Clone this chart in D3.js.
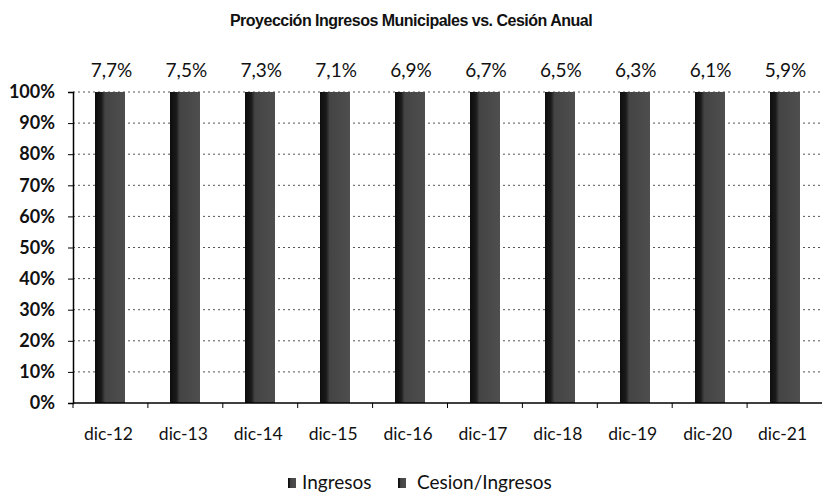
<!DOCTYPE html>
<html>
<head>
<meta charset="utf-8">
<script src="https://cdn.jsdelivr.net/npm/d3@7"></script>
<style>
  body { margin: 0; background: #fff; }
  svg { display: block; }
</style>
</head>
<body>
<div id="chart"></div>
<script>
// chart data
const categories = ["dic-12", "dic-13", "dic-14", "dic-15", "dic-16", "dic-17", "dic-18", "dic-19", "dic-20", "dic-21"];
const cesion = [7.7, 7.5, 7.3, 7.1, 6.9, 6.7, 6.5, 6.3, 6.1, 5.9];
const ingresos = [92.3, 92.5, 92.7, 92.9, 93.1, 93.3, 93.5, 93.7, 93.9, 94.1];
const seriesNames = ["Ingresos", "Cesion/Ingresos"];
const yTicks = [0, 10, 20, 30, 40, 50, 60, 70, 80, 90, 100];

const W = 822, H = 496;
const margin = { left: 73, right: 0, top: 92, bottom: 93 };
const font = "Lato, 'Open Sans', sans-serif";

const svg = d3.select("#chart").append("svg")
    .attr("width", W)
    .attr("height", H);

// gradient to mimic the dark scanned bars
const defs = svg.append("defs");
const grad = defs.append("linearGradient").attr("id", "barGrad");
grad.append("stop").attr("offset", "0%").attr("stop-color", "#0d0d0d");
grad.append("stop").attr("offset", "20%").attr("stop-color", "#1a1a1a");
grad.append("stop").attr("offset", "32%").attr("stop-color", "#444");
grad.append("stop").attr("offset", "100%").attr("stop-color", "#4e4e4e");

const x = d3.scaleBand()
    .domain(categories)
    .range([margin.left, W - margin.right])
    .paddingInner(0.6)
    .paddingOuter(0.3);

const y = d3.scaleLinear()
    .domain([0, 100])
    .range([H - margin.bottom, margin.top]);

// title
svg.append("text")
    .attr("x", 411)
    .attr("y", 26)
    .attr("text-anchor", "middle")
    .style("font-family", "'Liberation Sans', Arial, sans-serif")
    .style("font-size", "16px")
    .style("font-weight", "bold")
    .style("letter-spacing", "-0.5px")
    .attr("fill", "#111")
    .text("Proyección Ingresos Municipales vs. Cesión Anual");

// gridlines
svg.append("g")
    .selectAll("line")
    .data(yTicks.filter(d => d > 0))
    .join("line")
    .attr("x1", margin.left)
    .attr("x2", W - 2)
    .attr("y1", d => y(d))
    .attr("y2", d => y(d))
    .attr("stroke", "#555")
    .attr("stroke-width", 1)
    .attr("stroke-dasharray", "2,3");

// stacked bars
const rows = categories.map((c, i) => ({ cat: c, Ingresos: ingresos[i], "Cesion/Ingresos": cesion[i] }));
const stacked = d3.stack().keys(seriesNames)(rows);

svg.append("g")
    .attr("shape-rendering", "crispEdges")
    .selectAll("g")
    .data(stacked)
    .join("g")
    .selectAll("rect")
    .data(d => d)
    .join("rect")
    .attr("x", d => x(d.data.cat))
    .attr("width", x.bandwidth())
    .attr("y", d => y(d[1]))
    .attr("height", d => y(d[0]) - y(d[1]))
    .attr("fill", "url(#barGrad)");

// data labels above bars
svg.append("g")
    .selectAll("text")
    .data(categories)
    .join("text")
    .attr("x", d => x(d) + x.bandwidth() / 2 + 1)
    .attr("y", 77)
    .attr("text-anchor", "middle")
    .style("font-family", font)
    .style("font-size", "19px")
    .attr("fill", "#111")
    .text((d, i) => cesion[i].toFixed(1).replace(".", ",") + "%");

// y axis
const yAxis = d3.axisLeft(y)
    .tickValues(yTicks)
    .tickSize(5)
    .tickFormat(d => d + "%");
const gy = svg.append("g")
    .attr("transform", `translate(${margin.left},0)`)
    .call(yAxis);
gy.select(".domain").attr("stroke", "#000").attr("stroke-width", 1.5);
gy.selectAll(".tick line").attr("stroke", "#000");
gy.selectAll(".tick text")
    .attr("x", -18)
    .style("font-family", font)
    .style("font-size", "18px")
    .style("font-weight", "bold")
    .attr("fill", "#111");

// x axis
const gx = svg.append("g")
    .attr("transform", `translate(0,${y(0)})`);
gx.append("line")
    .attr("x1", margin.left)
    .attr("x2", W)
    .attr("stroke", "#000")
    .attr("stroke-width", 1.5);
const gap = (x.step() - x.bandwidth()) / 2;
gx.selectAll("line.tk")
    .data(categories)
    .join("line")
    .attr("class", "tk")
    .attr("x1", d => x(d) - gap)
    .attr("x2", d => x(d) - gap)
    .attr("y1", 0)
    .attr("y2", 5)
    .attr("stroke", "#000");
gx.selectAll("text")
    .data(categories)
    .join("text")
    .attr("x", d => x(d) + x.bandwidth() / 2 - 2)
    .attr("y", 440 - y(0))
    .attr("text-anchor", "middle")
    .style("font-family", font)
    .style("font-size", "17.5px")
    .attr("fill", "#111")
    .text(d => d);

// legend
const legend = svg.append("g").attr("transform", "translate(0,489)");
const legX = [288, 398];
seriesNames.forEach((name, i) => {
    legend.append("rect")
        .attr("x", legX[i])
        .attr("y", -11)
        .attr("width", 8)
        .attr("height", 10)
        .attr("fill", "url(#barGrad)");
    legend.append("text")
        .attr("x", legX[i] + (i === 0 ? 14 : 19))
        .attr("y", 0)
        .style("font-family", font)
        .style("font-size", "19px")
        .attr("fill", "#111")
        .text(name);
});
</script>
</body>
</html>
